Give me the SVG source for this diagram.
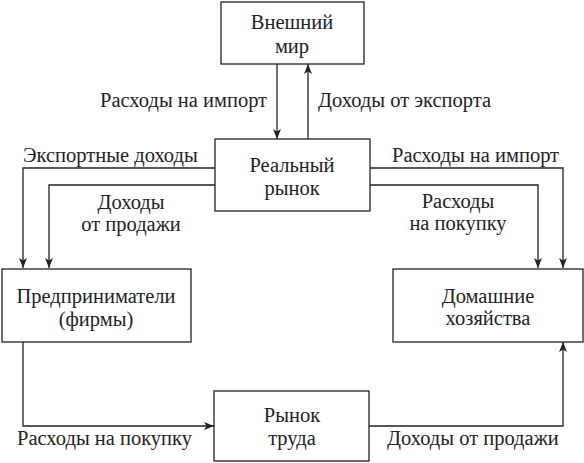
<svg xmlns="http://www.w3.org/2000/svg" width="584" height="463" viewBox="0 0 584 463">
<defs>
<marker id="ah" viewBox="0 0 10 10" refX="10" refY="5" markerWidth="10" markerHeight="10" markerUnits="userSpaceOnUse" orient="auto">
<path d="M0,1 L10,5 L0,9 L2.5,5 Z" fill="#222"/>
</marker>
</defs>
<rect width="584" height="463" fill="#fff"/>
<g id="connectors" fill="none" stroke="#222" stroke-width="1.3">
<line x1="277" y1="64" x2="277" y2="139" marker-end="url(#ah)"/>
<line x1="308" y1="139" x2="308" y2="64" marker-end="url(#ah)"/>
<polyline points="215,168 23,168 23,268" marker-end="url(#ah)"/>
<polyline points="215,185 49,185 49,268" marker-end="url(#ah)"/>
<polyline points="370,168 563,168 563,268" marker-end="url(#ah)"/>
<polyline points="370,185 538,185 538,268" marker-end="url(#ah)"/>
<polyline points="23,342 23,426 214,426" marker-end="url(#ah)"/>
<polyline points="369,426 563,426 563,342" marker-end="url(#ah)"/>
</g>
<g id="labels" fill="#222">
<text style="font-family:'Liberation Serif',serif;font-size:20.5px" x="100" y="107">Расходы на импорт</text>
<text style="font-family:'Liberation Serif',serif;font-size:20.5px" x="318" y="107">Доходы от экспорта</text>
<text style="font-family:'Liberation Serif',serif;font-size:20.5px" x="23" y="162">Экспортные доходы</text>
<text style="font-family:'Liberation Serif',serif;font-size:20.5px" x="131" y="209" text-anchor="middle">Доходы</text>
<text style="font-family:'Liberation Serif',serif;font-size:20.5px" x="131" y="231" text-anchor="middle">от продажи</text>
<text style="font-family:'Liberation Serif',serif;font-size:20.5px" x="392" y="162">Расходы на импорт</text>
<text style="font-family:'Liberation Serif',serif;font-size:20.5px" x="458" y="208" text-anchor="middle">Расходы</text>
<text style="font-family:'Liberation Serif',serif;font-size:20.5px" x="458" y="230" text-anchor="middle">на покупку</text>
<text style="font-family:'Liberation Serif',serif;font-size:20.5px" x="17" y="445">Расходы на покупку</text>
<text style="font-family:'Liberation Serif',serif;font-size:20.5px" x="387" y="445">Доходы от продажи</text>
</g>
<g id="vneshniy-mir" text-anchor="middle">
<rect x="221" y="2" width="143" height="62" fill="#fff" stroke="#222" stroke-width="1.3"/>
<text style="font-family:'Liberation Serif',serif;font-size:20.5px" x="292" y="29" fill="#222">Внешний</text>
<text style="font-family:'Liberation Serif',serif;font-size:20.5px" x="292" y="53" fill="#222">мир</text>
</g>
<g id="realnyy-rynok" text-anchor="middle">
<rect x="215" y="139" width="155" height="72" fill="#fff" stroke="#222" stroke-width="1.3"/>
<text style="font-family:'Liberation Serif',serif;font-size:20.5px" x="292" y="172" fill="#222">Реальный</text>
<text style="font-family:'Liberation Serif',serif;font-size:20.5px" x="292" y="195" fill="#222">рынок</text>
</g>
<g id="firms" text-anchor="middle">
<rect x="2" y="269" width="189" height="73" fill="#fff" stroke="#222" stroke-width="1.3"/>
<text style="font-family:'Liberation Serif',serif;font-size:20.5px" x="96" y="303" fill="#222">Предприниматели</text>
<text style="font-family:'Liberation Serif',serif;font-size:20.5px" x="96" y="326" fill="#222">(фирмы)</text>
</g>
<g id="households" text-anchor="middle">
<rect x="393" y="269" width="190" height="73" fill="#fff" stroke="#222" stroke-width="1.3"/>
<text style="font-family:'Liberation Serif',serif;font-size:20.5px" x="488" y="303" fill="#222">Домашние</text>
<text style="font-family:'Liberation Serif',serif;font-size:20.5px" x="488" y="325" fill="#222">хозяйства</text>
</g>
<g id="labor-market" text-anchor="middle">
<rect x="214" y="391" width="155" height="70" fill="#fff" stroke="#222" stroke-width="1.3"/>
<text style="font-family:'Liberation Serif',serif;font-size:20.5px" x="292" y="422" fill="#222">Рынок</text>
<text style="font-family:'Liberation Serif',serif;font-size:20.5px" x="292" y="445" fill="#222">труда</text>
</g>
</svg>
